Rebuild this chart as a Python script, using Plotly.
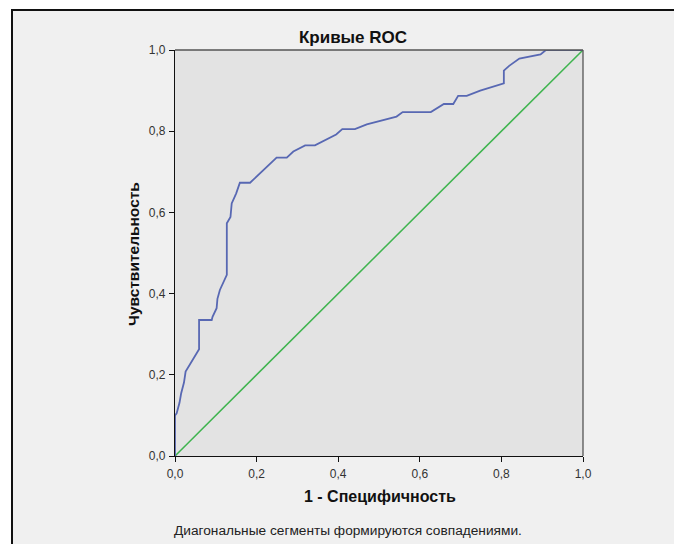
import plotly.graph_objects as go

# ROC curve points (1 - specificity, sensitivity)
fpr = [0, 0, 0.004, 0.011, 0.015, 0.022, 0.026, 0.059, 0.059, 0.090,
       0.092, 0.102, 0.104, 0.110, 0.127, 0.127, 0.136, 0.139, 0.150, 0.159,
       0.184, 0.249, 0.274, 0.290, 0.319, 0.343, 0.395, 0.410, 0.441, 0.470,
       0.543, 0.558, 0.627, 0.659, 0.682, 0.694, 0.715, 0.748, 0.806, 0.806,
       0.819, 0.844, 0.896, 0.909, 1.0]
tpr = [0, 0.100, 0.105, 0.131, 0.154, 0.181, 0.208, 0.263, 0.335, 0.335,
       0.343, 0.364, 0.387, 0.409, 0.446, 0.573, 0.589, 0.622, 0.647, 0.673,
       0.673, 0.735, 0.735, 0.750, 0.765, 0.765, 0.792, 0.805, 0.805, 0.817,
       0.836, 0.847, 0.847, 0.867, 0.867, 0.887, 0.887, 0.900, 0.918, 0.949,
       0.961, 0.979, 0.989, 1.0, 1.0]

# reference diagonal
diag = [0, 1]

tick_vals = [0, 0.2, 0.4, 0.6, 0.8, 1.0]
tick_text = ["0,0", "0,2", "0,4", "0,6", "0,8", "1,0"]

W, H = 674, 544
L, R, T, B = 175, 583, 50, 456  # plot area in pixels
FONT = "Liberation Sans, Arial"


def px(x):
    return (x - L) / (R - L)


def py(y):
    return (B - y) / (B - T)


fig = go.Figure()
fig.add_trace(go.Scatter(x=diag, y=diag, mode="lines",
                         line=dict(color="#3fb44f", width=1.5),
                         hoverinfo="skip", cliponaxis=False))
fig.add_trace(go.Scatter(x=fpr, y=tpr, mode="lines",
                         line=dict(color="#5868b3", width=1.8),
                         cliponaxis=False))

axis_common = dict(range=[0, 1], showgrid=False, zeroline=False,
                   showline=True, linecolor="#111", linewidth=1.3,
                   ticks="outside", ticklen=5, tickcolor="#111", tickwidth=1.2,
                   tickvals=tick_vals, ticktext=tick_text,
                   tickfont=dict(family=FONT, size=12, color="#333"),
                   fixedrange=True)

fig.update_layout(
    width=W, height=H,
    margin=dict(l=L, r=W - R, t=T, b=H - B),
    paper_bgcolor="#f0f0f0",
    plot_bgcolor="#e3e3e3",
    showlegend=False,
    xaxis=dict(**axis_common, ticklabelstandoff=1),
    yaxis=dict(**axis_common, ticklabelstandoff=1),
    title=dict(text="<b>Кривые ROC</b>", x=353 / W, xref="container", xanchor="center",
               y=1 - 37 / H, yref="container", yanchor="middle",
               font=dict(family=FONT, size=17, color="#111")),
    shapes=[
        # white surround outside the framed panel
        dict(type="rect", xref="paper", yref="paper", layer="below",
             x0=px(-5), x1=px(W + 5), y0=py(-5), y1=py(9),
             fillcolor="white", line=dict(width=0)),
        dict(type="rect", xref="paper", yref="paper", layer="below",
             x0=px(-5), x1=px(11), y0=py(-5), y1=py(H + 5),
             fillcolor="white", line=dict(width=0)),
        # panel border
        dict(type="line", xref="paper", yref="paper",
             x0=px(11), x1=px(W + 5), y0=py(10), y1=py(10),
             line=dict(color="#111", width=2)),
        dict(type="line", xref="paper", yref="paper",
             x0=px(12), x1=px(12), y0=py(10), y1=py(H + 5),
             line=dict(color="#111", width=2)),
        # upper and right frame of the plot area
        dict(type="line", xref="paper", yref="paper", x0=0, x1=1, y0=1, y1=1,
             line=dict(color="#555", width=1.3)),
        dict(type="line", xref="paper", yref="paper", x0=1, x1=1, y0=0, y1=1,
             line=dict(color="#555", width=1.3)),
    ],
    annotations=[
        dict(text="<b>1 - Специфичность</b>", xref="paper", yref="paper",
             x=px(380), y=py(496), xanchor="center", yanchor="middle", showarrow=False,
             font=dict(family=FONT, size=16, color="#111")),
        dict(text="<b>Чувствительность</b>", xref="paper", yref="paper",
             x=px(133), y=py(254), xanchor="center", yanchor="middle", showarrow=False,
             textangle=-90,
             font=dict(family=FONT, size=15.5, color="#111")),
        dict(text="Диагональные сегменты формируются совпадениями.", xref="paper", yref="paper",
             x=px(172), y=py(530), xanchor="left", yanchor="middle", showarrow=False,
             font=dict(family=FONT, size=13.7, color="#222")),
    ],
)

fig.write_html("out.html")
